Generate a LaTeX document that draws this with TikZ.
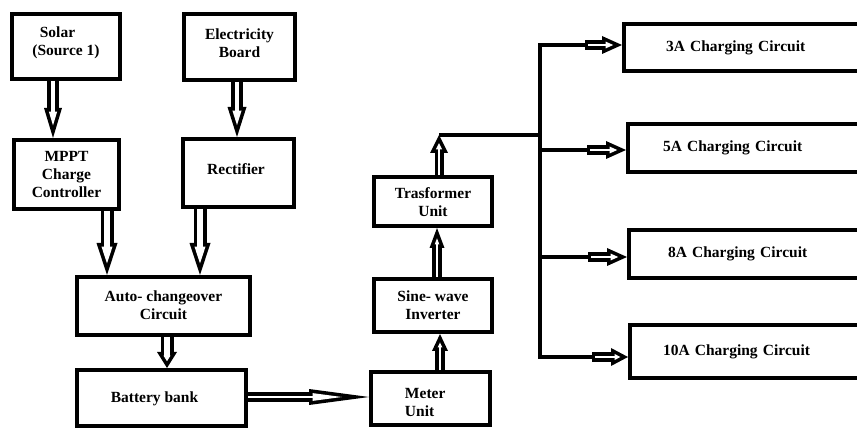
\documentclass[tikz,border=0pt]{standalone}
\usepackage{fontspec}
\setmainfont{Liberation Serif}
\usetikzlibrary{arrows.meta}
\newcommand\tx[3][c]{\raisebox{\dimexpr#2-4pt\relax}[0pt][0pt]{\begin{tabular}{@{}#1@{}}#3\end{tabular}}}
\tikzset{
  box/.style={draw=black, line width=4pt, fill=white, inner sep=0pt,
    font=\bfseries\fontsize{15.5}{18}\selectfont, text=black},
  cbox/.style={box, anchor=west, text width=180pt, align=left},
  wire/.style={draw=black, line width=4pt, line join=miter},
  hollow/.style n args={4}{%
    /utils/exec={%
      \pgfmathsetlengthmacro\hd{3.6*sqrt((#2/2)^2+(#1)^2)/(#2/2)}%
      \pgfmathsetlengthmacro\hli{#1-3.6-\hd}%
      \pgfmathsetlengthmacro\hwi{#2*\hli/#1}%
      \pgfmathsetlengthmacro\hsw{max(#3-7.5,2)}%
    },
    draw=black, line width=#3pt,
    -{Triangle[length=#1pt, width=#2pt, line width=0pt]},
    postaction={draw=white, line width=\hsw, shorten <=#4pt, shorten >=\hd,
      -{Triangle[length=\hli, width=\hwi, line width=0pt]}}
  }
}
\begin{document}
\begin{tikzpicture}[x=1pt,y=-1pt]
\fill[white] (0,0) rectangle (857,430);
\useasboundingbox (0,0) rectangle (857,430);
\clip (0,0) rectangle (857,430);

\node[box,minimum width=108pt,minimum height=65pt] (solar) at (66,46.5) {\tx{4pt}{Solar\hspace*{17pt}\\(Source 1)}};
\node[box,minimum width=111pt,minimum height=66pt] (eb) at (239.5,47) {\tx{2pt}{Electricity\\Board}};
\node[box,minimum width=105pt,minimum height=69pt] (mppt) at (66.5,174.5) {\tx{-1pt}{MPPT\\Charge\\Controller}};
\node[box,minimum width=111pt,minimum height=68pt] (rect) at (238.5,173) {\tx{2pt}{Rectifier\hspace*{5pt}}};
\node[box,minimum width=173pt,minimum height=58pt] (auto) at (163.5,306) {\tx{-1pt}{Auto- changeover\\Circuit}};
\node[box,minimum width=169pt,minimum height=56pt] (batt) at (161.5,398) {\tx{0pt}{Battery bank\hspace*{14pt}}};
\node[box,minimum width=119pt,minimum height=53pt] (meter) at (430.5,398.5) {\tx[l]{-5pt}{Meter\\Unit}\hspace*{10.6pt}};
\node[box,minimum width=118pt,minimum height=53pt] (sine) at (433,305.5) {\tx{-1pt}{Sine- wave\\Inverter}};
\node[box,minimum width=118pt,minimum height=49pt] (trasf) at (433,201.5) {\tx{-2.5pt}{Trasformer\\Unit}};

\node[cbox,minimum height=47pt,inner xsep=42pt] (c3) at (622,47.5) {3A Charging Circuit};
\node[cbox,minimum height=48pt,inner xsep=35pt] (c5) at (626,148) {5A Charging Circuit};
\node[cbox,minimum height=48pt,inner xsep=39pt] (c8) at (627,254) {8A Charging Circuit};
\node[cbox,minimum height=53pt,inner xsep=33pt] (c10) at (628,351.5) {10A Charging Circuit};

\draw[hollow={30}{18}{12}{0}] ([xshift=-13pt]solar.south) -- ([xshift=-13pt]solar.south |- mppt.north);
\draw[hollow={30}{19}{12}{0}] ([xshift=-2.5pt]eb.south) -- ([xshift=-2.5pt]eb.south |- rect.north);
\draw[hollow={32}{21}{13}{0}] ([xshift=40.5pt]mppt.south) -- ([xshift=40.5pt]mppt.south |- auto.north);
\draw[hollow={32}{21}{13}{0}] ([xshift=-38.5pt]rect.south) -- ([xshift=-38.5pt]rect.south |- auto.north);
\draw[hollow={16}{20}{13}{0}] ([xshift=3.5pt]auto.south) -- ([xshift=3.5pt]auto.south |- batt.north);
\draw[hollow={60}{16}{10}{0}] ([yshift=1pt]batt.east) -- ([yshift=1pt]batt.east -| meter.west);
\draw[hollow={17}{16}{10}{0}] ([xshift=9.5pt]meter.north) -- ([xshift=9.5pt]meter.north |- sine.south);
\draw[hollow={20}{15}{10}{0}] ([xshift=4pt]sine.north) -- ([xshift=4pt]sine.north |- trasf.south);

\coordinate (j) at (439,135);
\draw[hollow={18}{18}{9}{0}] (trasf.north -| j) -- (j);

\coordinate (b3) at (540,45);
\coordinate (b5) at (540,150);
\coordinate (b8) at (540,257);
\coordinate (b10) at (540,357);
\coordinate (a3) at (585,45);
\coordinate (a5) at (587,150);
\coordinate (a8) at (588,257);
\coordinate (a10) at (592,357);

\draw[wire] (j) -- (j -| b3);
\draw[wire] (a3) -- (b3) -- (b10) -- (a10);
\draw[wire] (b5) -- (a5);
\draw[wire] (b8) -- (a8);

\draw[hollow={20}{18}{10}{3}] (a3) -- (a3 -| c3.west);
\draw[hollow={20}{18}{10}{3}] (a5) -- (a5 -| c5.west);
\draw[hollow={20}{18}{10}{3}] (a8) -- (a8 -| c8.west);
\draw[hollow={17}{18}{10}{3}] (a10) -- (a10 -| c10.west);
\end{tikzpicture}
\end{document}
